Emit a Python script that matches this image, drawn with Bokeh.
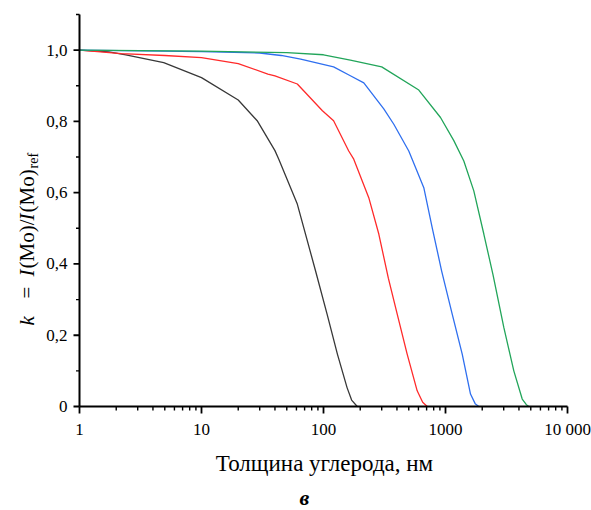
from bokeh.plotting import figure
from bokeh.models import Range1d
from bokeh.core.properties import value
from bokeh.embed import file_html
from bokeh.resources import INLINE
import math

# ---- data ----
black_x = [1, 1.74, 2.4, 4.9, 10, 20, 28.6, 40, 43, 61, 86, 107, 130, 156, 170, 189]
black_y = [1.0, 0.995, 0.987, 0.965, 0.923, 0.860, 0.802, 0.718, 0.694, 0.568, 0.381, 0.259, 0.147, 0.053, 0.018, 0.0]

red_x = [1, 2.2, 5, 10, 20, 35, 40, 61, 98, 121, 161, 177, 235, 284, 340, 402, 485, 586, 650, 708]
red_y = [1.0, 0.99, 0.985, 0.979, 0.962, 0.933, 0.928, 0.905, 0.830, 0.802, 0.717, 0.694, 0.586, 0.484, 0.360, 0.259, 0.147, 0.044, 0.012, 0.0]

blue_x = [1, 10, 30, 45, 65, 121, 166, 214, 312, 377, 500, 533, 664, 780, 930, 1135, 1371, 1603, 1750, 1875]
blue_y = [1.0, 0.996, 0.992, 0.985, 0.975, 0.953, 0.928, 0.908, 0.835, 0.792, 0.717, 0.694, 0.614, 0.500, 0.380, 0.259, 0.147, 0.035, 0.008, 0.0]

green_x = [1, 10, 50, 100, 166, 300, 604, 910, 1170, 1413, 1706, 2061, 2450, 3006, 3630, 4255, 4600, 4820]
green_y = [1.0, 0.997, 0.993, 0.987, 0.972, 0.953, 0.888, 0.811, 0.746, 0.689, 0.605, 0.484, 0.370, 0.222, 0.100, 0.021, 0.005, 0.0]

x_ticks = [1, 10, 100, 1000, 10000]
x_tick_labels = ["1", "10", "100", "1000", "10 000"]
y_ticks = [0.0, 0.2, 0.4, 0.6, 0.8, 1.0]
y_tick_labels = ["0", "0,2", "0,4", "0,6", "0,8", "1,0"]
y_minor = [0.1, 0.3, 0.5, 0.7, 0.9, 1.1]
x_minor = [m * d for d in [1, 10, 100, 1000] for m in range(2, 10)]
y_top = 1.1

x_label = "Толщина углерода, нм"
caption = "в"

SERIF = "Liberation Serif"
W, H = 591, 510
# layout of the plotting area in canvas pixels
X0, DEC = 79, 122.0          # column of x=1, pixels per decade
Y0, YS = 406, 356.36         # row of y=0, pixels per unit of y


def cx(col):
    """canvas column -> x data value (log axis)"""
    return 10 ** ((col - X0) / DEC)


def ry(row):
    """canvas row -> y data value"""
    return (Y0 - row) / YS


p = figure(width=W, height=H, x_axis_type="log",
           x_range=Range1d(cx(0), cx(W)), y_range=Range1d(ry(H), ry(0)),
           x_axis_location=None, y_axis_location=None,
           output_backend="svg", toolbar_location=None,
           min_border=0, min_border_left=0, min_border_right=0,
           min_border_top=0, min_border_bottom=0)
p.outline_line_color = None
p.grid.visible = False
p.background_fill_color = "white"
p.border_fill_color = "white"

# ---- curves ----
series = [(black_x, black_y, "#383838"), (red_x, red_y, "#ff2a2a"),
          (blue_x, blue_y, "#2f6fef"), (green_x, green_y, "#22a55a")]
for xs, ys, c in series:
    p.line(xs, ys, line_color=c, line_width=1.3)

# ---- axes drawn from the tick arrays ----
x_lo, x_hi = x_ticks[0], x_ticks[-1]
p.line([x_lo, x_hi], [0, 0], line_color="black", line_width=2)
p.line([x_lo, x_lo], [0, y_top], line_color="black", line_width=2)

# x ticks (outward, downward)
p.segment(x0=x_ticks, y0=[0] * len(x_ticks), x1=x_ticks,
          y1=[ry(Y0 + 7)] * len(x_ticks), line_color="black", line_width=1.8)
p.segment(x0=x_minor, y0=[0] * len(x_minor), x1=x_minor,
          y1=[ry(Y0 + 4)] * len(x_minor), line_color="black", line_width=1.4)
# y ticks (outward, left)
p.segment(x0=[x_lo] * len(y_ticks), y0=y_ticks, x1=[cx(X0 - 6)] * len(y_ticks),
          y1=y_ticks, line_color="black", line_width=1.8)
p.segment(x0=[x_lo] * len(y_minor), y0=y_minor, x1=[cx(X0 - 3.5)] * len(y_minor),
          y1=y_minor, line_color="black", line_width=1.4)

# tick labels
p.text(x=x_ticks, y=[ry(428.5)] * len(x_ticks), text=x_tick_labels,
       text_font=value(SERIF), text_font_size=value("17px"), text_color="black",
       text_align="center", text_baseline="middle")
p.text(x=[cx(67)] * len(y_ticks), y=y_ticks, text=y_tick_labels,
       text_font=value(SERIF), text_font_size=value("17px"), text_color="black",
       text_align="right", text_baseline="middle")

# x axis title
p.text(x=[cx(324)], y=[ry(463)], text=[x_label],
       text_font=value(SERIF), text_font_size=value("23px"), text_color="black",
       text_align="center", text_baseline="alphabetic")

# ---- y axis title from pieces (italic k and I, subscript ref) ----
pieces = [
    ("k", "italic", 325, 26.5, "21px"),
    ("=", "normal", 298, 26.5, "21px"),
    ("I", "italic", 276, 26.5, "21px"),
    ("(Mo)/", "normal", 268, 26.5, "21px"),
    ("I", "italic", 220, 26.5, "21px"),
    ("(Mo)", "normal", 212, 26.5, "21px"),
    ("ref", "normal", 168, 32.5, "14px"),
]
for txt, style, row, col, fs in pieces:
    p.text(x=[cx(col)], y=[ry(row)], text=[txt], angle=math.pi / 2,
           text_font=value(SERIF), text_font_style=value(style),
           text_font_size=value(fs), text_color="black",
           text_align="left", text_baseline="alphabetic")

# caption
p.text(x=[cx(304)], y=[ry(497)], text=[caption],
       text_font=value(SERIF), text_font_style=value("bold italic"),
       text_font_size=value("22px"), text_color="black",
       text_align="center", text_baseline="alphabetic")

open("out.html", "w").write(file_html(p, INLINE))
